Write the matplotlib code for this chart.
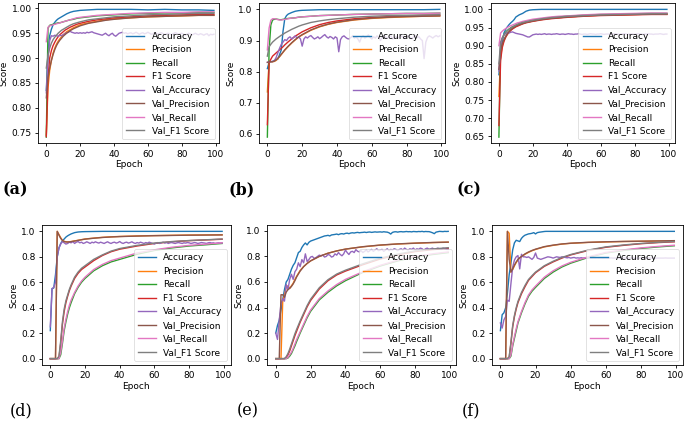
import matplotlib
matplotlib.use("Agg")
import matplotlib.pyplot as plt
from matplotlib.ticker import FixedLocator, FormatStrFormatter

# ---------------- data ----------------
EP = [0, 1, 2, 3, 4, 5, 6, 7, 8, 9, 10, 11, 12, 14, 16, 18, 20, 25, 30, 35, 40, 50, 60, 70, 80, 90, 99]
EPF = list(range(100))

labels = ["Accuracy", "Precision", "Recall", "F1 Score",
          "Val_Accuracy", "Val_Precision", "Val_Recall", "Val_F1 Score"]

# (a)
acc_a = [0.835,0.910,0.945,0.958,0.967,0.972,0.976,0.979,0.981,0.983,0.985,0.987,0.989,0.992,0.994,0.995,0.996,0.997,0.998,0.998,0.998,0.998,0.997,0.998,0.997,0.997,0.996]
prec_a = [0.745,0.840,0.875,0.895,0.910,0.920,0.928,0.934,0.939,0.943,0.947,0.950,0.953,0.957,0.961,0.964,0.967,0.971,0.974,0.977,0.979,0.981,0.983,0.984,0.985,0.986,0.986]
rec_a = [0.741,0.960,0.966,0.967,0.968,0.969,0.970,0.971,0.971,0.972,0.973,0.974,0.975,0.977,0.978,0.980,0.981,0.983,0.985,0.986,0.987,0.989,0.990,0.991,0.991,0.992,0.992]
f1_a = [0.742,0.860,0.900,0.915,0.925,0.932,0.938,0.943,0.947,0.950,0.953,0.956,0.958,0.962,0.965,0.968,0.970,0.974,0.977,0.979,0.981,0.983,0.985,0.986,0.987,0.988,0.988]
vacc_a = [0.830,0.900,0.935,0.945,0.944,0.946,0.945,0.944,0.946,0.945,
          0.947,0.949,0.951,0.952,0.954,0.952,0.951,0.950,0.951,0.950,
          0.951,0.950,0.951,0.950,0.952,0.951,0.952,0.953,0.951,0.950,
          0.949,0.948,0.947,0.946,0.948,0.950,0.947,0.945,0.948,0.950,
          0.946,0.944,0.947,0.950,0.951,0.952,0.950,0.951,0.949,0.950,
          0.951,0.949,0.950,0.952,0.950,0.948,0.950,0.951,0.949,0.950,
          0.952,0.950,0.948,0.949,0.951,0.950,0.948,0.950,0.951,0.949,
          0.947,0.949,0.950,0.948,0.947,0.949,0.951,0.950,0.948,0.949,
          0.950,0.948,0.946,0.948,0.950,0.949,0.947,0.948,0.950,0.948,
          0.947,0.949,0.948,0.946,0.948,0.949,0.945,0.948,0.947,0.948]
vprec_a = [0.820,0.860,0.880,0.895,0.907,0.917,0.925,0.931,0.936,0.940,0.944,0.947,0.950,0.955,0.959,0.962,0.965,0.970,0.973,0.976,0.978,0.981,0.983,0.984,0.985,0.986,0.986]
vrec_a = [0.933,0.962,0.965,0.966,0.967,0.968,0.969,0.970,0.971,0.972,0.973,0.974,0.975,0.977,0.979,0.981,0.982,0.984,0.986,0.987,0.988,0.990,0.991,0.992,0.992,0.993,0.993]
vf1_a = [0.880,0.905,0.920,0.930,0.937,0.942,0.946,0.950,0.953,0.956,0.958,0.960,0.962,0.966,0.969,0.971,0.973,0.977,0.979,0.981,0.983,0.985,0.987,0.988,0.989,0.990,0.990]

# (b)
acc_b = [0.810,0.830,0.832,0.833,0.835,0.838,0.840,0.855,0.870,0.930,0.970,0.980,0.985,0.990,0.994,0.996,0.997,0.998,0.999,0.999,0.999,0.999,0.999,0.999,0.999,0.999,1.000]
prec_b = [0.735,0.830,0.832,0.832,0.833,0.836,0.842,0.848,0.855,0.862,0.869,0.875,0.881,0.892,0.902,0.911,0.918,0.933,0.944,0.952,0.958,0.966,0.971,0.974,0.976,0.978,0.979]
rec_b = [0.590,0.870,0.950,0.966,0.968,0.969,0.968,0.967,0.967,0.968,0.969,0.970,0.971,0.972,0.973,0.975,0.976,0.978,0.980,0.981,0.982,0.984,0.985,0.986,0.987,0.987,0.988]
f1_b = [0.630,0.830,0.840,0.850,0.855,0.860,0.865,0.870,0.875,0.880,0.886,0.891,0.896,0.905,0.914,0.921,0.928,0.941,0.951,0.958,0.963,0.970,0.974,0.977,0.979,0.981,0.982]
vacc_b = [0.830,0.832,0.832,0.833,0.835,0.845,0.860,0.875,0.888,0.895,
          0.903,0.900,0.908,0.912,0.905,0.910,0.915,0.908,0.912,0.905,
          0.882,0.905,0.912,0.908,0.913,0.916,0.910,0.905,0.908,0.912,
          0.906,0.910,0.915,0.919,0.912,0.908,0.913,0.910,0.905,0.912,
          0.908,0.864,0.903,0.912,0.915,0.910,0.906,0.905,0.910,0.915,
          0.908,0.912,0.905,0.895,0.910,0.915,0.908,0.912,0.918,0.910,
          0.905,0.912,0.908,0.915,0.910,0.900,0.912,0.916,0.910,0.908,
          0.912,0.915,0.905,0.910,0.913,0.908,0.912,0.915,0.910,0.906,
          0.912,0.915,0.910,0.905,0.912,0.916,0.910,0.912,0.905,0.900,
          0.842,0.895,0.910,0.915,0.912,0.908,0.913,0.916,0.912,0.915]
vprec_b = [0.830,0.832,0.832,0.832,0.834,0.838,0.843,0.849,0.856,0.863,0.870,0.876,0.882,0.893,0.903,0.912,0.919,0.934,0.945,0.953,0.959,0.967,0.972,0.975,0.977,0.978,0.979]
vrec_b = [0.870,0.940,0.965,0.970,0.970,0.969,0.967,0.966,0.966,0.967,0.968,0.969,0.970,0.972,0.973,0.975,0.976,0.978,0.980,0.981,0.982,0.984,0.985,0.986,0.987,0.987,0.988]
vf1_b = [0.850,0.880,0.888,0.895,0.900,0.905,0.909,0.913,0.917,0.920,0.924,0.927,0.930,0.936,0.941,0.946,0.950,0.958,0.963,0.967,0.970,0.975,0.978,0.980,0.981,0.982,0.983]

# (c)
acc_c = [0.820,0.870,0.910,0.935,0.945,0.952,0.958,0.963,0.967,0.972,0.979,0.982,0.985,0.989,0.995,0.998,0.999,1.000,1.000,1.000,1.000,1.000,1.000,1.000,1.000,1.000,1.000]
prec_c = [0.760,0.870,0.900,0.915,0.925,0.932,0.938,0.943,0.947,0.950,0.953,0.955,0.957,0.961,0.964,0.966,0.968,0.972,0.975,0.977,0.979,0.982,0.984,0.985,0.986,0.987,0.987]
rec_c = [0.648,0.900,0.920,0.930,0.937,0.942,0.946,0.949,0.952,0.954,0.956,0.958,0.960,0.963,0.966,0.968,0.970,0.974,0.977,0.979,0.981,0.984,0.986,0.987,0.988,0.989,0.989]
f1_c = [0.680,0.860,0.895,0.912,0.923,0.931,0.937,0.942,0.946,0.949,0.952,0.954,0.956,0.960,0.963,0.965,0.967,0.971,0.974,0.976,0.978,0.981,0.983,0.984,0.985,0.986,0.986]
vacc_c = [0.830,0.900,0.920,0.930,0.933,0.936,0.935,0.937,0.938,0.936,
          0.934,0.933,0.932,0.931,0.930,0.928,0.926,0.924,0.924,0.927,
          0.930,0.931,0.932,0.931,0.932,0.931,0.932,0.933,0.931,0.932,
          0.932,0.931,0.932,0.932,0.933,0.932,0.931,0.932,0.932,0.931,
          0.932,0.933,0.932,0.932,0.931,0.932,0.932,0.933,0.932,0.931,
          0.932,0.932,0.931,0.932,0.933,0.932,0.932,0.931,0.932,0.932,
          0.933,0.932,0.931,0.932,0.932,0.932,0.931,0.932,0.933,0.932,
          0.932,0.931,0.932,0.932,0.933,0.932,0.931,0.932,0.932,0.932,
          0.931,0.932,0.933,0.932,0.932,0.931,0.932,0.932,0.933,0.932,
          0.932,0.931,0.932,0.932,0.932,0.933,0.932,0.931,0.932,0.932]
vprec_c = [0.835,0.885,0.905,0.917,0.926,0.933,0.939,0.944,0.948,0.951,0.954,0.956,0.958,0.961,0.964,0.966,0.968,0.972,0.975,0.977,0.979,0.982,0.984,0.985,0.986,0.987,0.987]
vrec_c = [0.900,0.935,0.940,0.944,0.947,0.950,0.953,0.955,0.957,0.959,0.961,0.963,0.964,0.967,0.969,0.971,0.973,0.976,0.979,0.981,0.982,0.985,0.987,0.988,0.989,0.990,0.990]
vf1_c = [0.850,0.910,0.922,0.930,0.936,0.941,0.945,0.949,0.952,0.954,0.957,0.959,0.961,0.964,0.966,0.968,0.970,0.974,0.977,0.979,0.981,0.983,0.985,0.986,0.987,0.988,0.988]

# (d)
acc_d = [0.220,0.550,0.555,0.660,0.800,0.870,0.905,0.925,0.940,0.955,0.965,0.973,0.980,0.990,0.995,0.997,0.998,0.999,1.000,1.000,1.000,1.000,1.000,1.000,1.000,1.000,1.000]
prec_d = [0,0,0,0,1.000,0.975,0.950,0.930,0.922,0.918,0.917,0.918,0.920,0.925,0.930,0.935,0.940,0.947,0.953,0.957,0.960,0.964,0.967,0.969,0.971,0.972,0.973]
rec_d = [0,0,0,0,0,0,0.030,0.120,0.220,0.290,0.350,0.400,0.440,0.510,0.560,0.600,0.630,0.690,0.730,0.760,0.780,0.820,0.850,0.870,0.885,0.895,0.905]
f1_d = [0,0,0,0,0,0.010,0.120,0.270,0.370,0.440,0.490,0.535,0.570,0.630,0.670,0.700,0.720,0.770,0.810,0.840,0.860,0.885,0.905,0.918,0.927,0.933,0.938]
vacc_d = [0.250,0.550,0.560,0.600,0.800,0.870,0.900,0.920,0.910,0.900,
          0.905,0.915,0.910,0.920,0.905,0.915,0.920,0.910,0.915,0.905,
          0.910,0.918,0.912,0.905,0.915,0.910,0.918,0.912,0.908,0.915,
          0.910,0.905,0.912,0.918,0.910,0.905,0.912,0.915,0.908,0.912,
          0.920,0.910,0.905,0.912,0.915,0.908,0.912,0.918,0.910,0.905,
          0.912,0.908,0.915,0.910,0.905,0.912,0.908,0.915,0.910,0.905,
          0.900,0.908,0.912,0.905,0.910,0.915,0.908,0.912,0.905,0.910,
          0.912,0.908,0.905,0.910,0.912,0.908,0.905,0.910,0.908,0.912,
          0.910,0.905,0.908,0.912,0.910,0.905,0.908,0.912,0.910,0.908,
          0.905,0.910,0.912,0.908,0.910,0.905,0.908,0.910,0.908,0.910]
vprec_d = [0,0,0,0,1.000,0.970,0.945,0.928,0.920,0.917,0.916,0.917,0.919,0.924,0.929,0.934,0.939,0.946,0.952,0.956,0.959,0.963,0.966,0.968,0.970,0.971,0.972]
vrec_d = [0,0,0,0,0,0,0.050,0.140,0.240,0.310,0.370,0.420,0.460,0.520,0.570,0.610,0.640,0.700,0.740,0.770,0.790,0.830,0.855,0.875,0.890,0.900,0.910]
vf1_d = [0,0,0,0,0,0.020,0.140,0.290,0.390,0.455,0.500,0.545,0.580,0.640,0.680,0.710,0.730,0.780,0.815,0.845,0.865,0.890,0.908,0.920,0.928,0.934,0.940]

# (e)
acc_e = [0.20,0.26,0.30,0.38,0.46,0.54,0.60,0.62,0.66,0.70,
         0.73,0.75,0.79,0.83,0.84,0.87,0.89,0.905,0.89,0.91,
         0.92,0.925,0.93,0.935,0.94,0.945,0.95,0.955,0.96,0.962,
         0.965,0.96,0.968,0.97,0.972,0.975,0.97,0.976,0.978,0.975,
         0.98,0.982,0.978,0.983,0.985,0.983,0.986,0.988,0.985,0.987,
         0.988,0.99,0.987,0.99,0.991,0.988,0.99,0.992,0.99,0.991,
         0.992,0.99,0.993,0.991,0.99,0.985,0.975,0.988,0.992,0.993,
         0.99,0.993,0.994,0.992,0.993,0.995,0.993,0.994,0.992,0.995,
         0.994,0.993,0.995,0.994,0.996,0.993,0.995,0.994,0.994,0.99,
         0.985,0.978,0.99,0.993,0.996,0.995,0.994,0.996,0.995,0.996]
prec_e = [0,0,0,0,0.450,0.500,0.560,0.570,0.550,0.570,0.590,0.620,0.645,0.690,0.720,0.745,0.765,0.800,0.825,0.843,0.857,0.875,0.888,0.897,0.903,0.908,0.911]
rec_e = [0,0,0,0,0,0,0,0.005,0.020,0.040,0.070,0.100,0.135,0.200,0.260,0.320,0.370,0.460,0.520,0.570,0.610,0.675,0.725,0.765,0.795,0.815,0.830]
f1_e = [0,0,0,0,0,0,0.010,0.030,0.060,0.100,0.140,0.180,0.215,0.285,0.345,0.405,0.455,0.545,0.610,0.655,0.685,0.735,0.780,0.812,0.838,0.853,0.863]
vacc_e = [0.20,0.15,0.30,0.43,0.47,0.45,0.58,0.54,0.62,0.66,
          0.62,0.68,0.70,0.75,0.72,0.775,0.75,0.82,0.76,0.775,
          0.795,0.80,0.785,0.79,0.80,0.81,0.805,0.81,0.795,0.80,
          0.815,0.81,0.795,0.80,0.82,0.81,0.83,0.815,0.805,0.82,
          0.85,0.83,0.815,0.835,0.84,0.83,0.853,0.84,0.835,0.845,
          0.83,0.84,0.85,0.835,0.845,0.855,0.84,0.85,0.86,0.845,
          0.85,0.855,0.84,0.85,0.86,0.845,0.855,0.85,0.86,0.855,
          0.845,0.855,0.86,0.85,0.865,0.855,0.85,0.86,0.855,0.865,
          0.85,0.86,0.855,0.865,0.86,0.85,0.86,0.865,0.855,0.86,
          0.865,0.855,0.86,0.865,0.86,0.855,0.865,0.86,0.855,0.855]
vprec_e = [0,0,0,0.500,0.500,0.480,0.520,0.540,0.550,0.565,0.585,0.610,0.640,0.685,0.720,0.745,0.765,0.800,0.825,0.843,0.857,0.876,0.889,0.898,0.904,0.909,0.912]
vrec_e = [0,0,0,0,0,0,0,0.010,0.030,0.050,0.080,0.115,0.150,0.210,0.270,0.330,0.380,0.470,0.530,0.580,0.620,0.680,0.730,0.770,0.800,0.820,0.835]
vf1_e = [0,0,0,0,0,0,0.015,0.040,0.075,0.115,0.155,0.195,0.230,0.295,0.355,0.415,0.465,0.555,0.618,0.662,0.692,0.742,0.786,0.818,0.843,0.858,0.868]

# (f)
acc_f = [0.22,0.345,0.36,0.40,0.515,0.66,0.75,0.855,0.91,0.93,
         0.925,0.92,0.945,0.96,0.97,0.975,0.98,0.982,0.985,0.99,
         0.98,0.99,0.993,0.995,0.997,0.999,1.0,1.0,1.0,1.0,
         1.0,1.0,1.0,1.0,1.0,1.0,1.0,1.0,1.0,1.0,
         1.0,1.0,1.0,1.0,1.0,1.0,1.0,1.0,1.0,1.0,
         1.0,1.0,1.0,1.0,1.0,1.0,1.0,1.0,1.0,1.0,
         1.0,1.0,1.0,1.0,1.0,1.0,1.0,1.0,1.0,1.0,
         1.0,1.0,1.0,1.0,1.0,1.0,1.0,1.0,1.0,1.0,
         1.0,1.0,1.0,1.0,1.0,1.0,1.0,1.0,1.0,1.0,
         1.0,1.0,1.0,1.0,1.0,1.0,1.0,1.0,1.0,1.0]
prec_f = [0,0,0,0,1.000,0.985,0.680,0.700,0.730,0.755,0.775,0.790,0.800,0.820,0.835,0.848,0.858,0.878,0.890,0.900,0.906,0.913,0.917,0.920,0.922,0.924,0.925]
rec_f = [0,0,0,0,0,0,0.020,0.100,0.160,0.220,0.280,0.320,0.360,0.430,0.490,0.530,0.560,0.630,0.680,0.720,0.750,0.795,0.830,0.850,0.866,0.878,0.887]
f1_f = [0,0,0,0,0,0.010,0.120,0.250,0.330,0.390,0.440,0.475,0.510,0.565,0.615,0.645,0.675,0.725,0.760,0.790,0.815,0.850,0.875,0.890,0.903,0.912,0.918]
vacc_f = [0.28,0.24,0.305,0.33,0.46,0.45,0.59,0.72,0.775,0.80,
          0.81,0.705,0.82,0.80,0.80,0.795,0.80,0.79,0.78,0.795,
          0.83,0.79,0.785,0.78,0.785,0.79,0.795,0.80,0.798,0.795,
          0.79,0.795,0.80,0.797,0.795,0.80,0.798,0.795,0.792,0.795,
          0.79,0.793,0.795,0.79,0.792,0.79,0.793,0.79,0.792,0.79,
          0.79,0.792,0.79,0.791,0.79,0.792,0.79,0.791,0.79,0.79,
          0.791,0.79,0.79,0.792,0.79,0.79,0.791,0.79,0.79,0.79,
          0.79,0.791,0.79,0.79,0.79,0.791,0.79,0.79,0.79,0.79,
          0.79,0.79,0.791,0.79,0.79,0.79,0.79,0.791,0.79,0.79,
          0.79,0.79,0.79,0.79,0.791,0.79,0.79,0.79,0.79,0.79]
vprec_f = [0,0,0,0,1.000,0.780,0.680,0.705,0.735,0.760,0.780,0.793,0.803,0.823,0.838,0.850,0.860,0.880,0.892,0.901,0.907,0.914,0.918,0.921,0.923,0.925,0.927]
vrec_f = [0,0,0,0,0,0,0.030,0.110,0.175,0.235,0.290,0.330,0.370,0.440,0.500,0.540,0.570,0.640,0.690,0.728,0.757,0.800,0.834,0.854,0.870,0.882,0.891]
vf1_f = [0,0,0,0,0,0.015,0.130,0.260,0.340,0.400,0.450,0.485,0.520,0.575,0.622,0.652,0.680,0.730,0.765,0.795,0.818,0.853,0.878,0.893,0.905,0.914,0.920]

panel_tags = ["(a)", "(b)", "(c)", "(d)", "(e)", "(f)"]
y_ticks_a = [0.75, 0.80, 0.85, 0.90, 0.95, 1.00]
y_ticks_b = [0.6, 0.7, 0.8, 0.9, 1.0]
y_ticks_c = [0.65, 0.70, 0.75, 0.80, 0.85, 0.90, 0.95, 1.00]
y_ticks_low = [0.0, 0.2, 0.4, 0.6, 0.8, 1.0]
x_ticks = [0, 20, 40, 60, 80, 100]

# ---------------- figure ----------------
W, H = 686, 423
fig = plt.figure(figsize=(W / 100, H / 100), dpi=100)

FS = 6.5
colors = ["#1f77b4", "#ff7f0e", "#2ca02c", "#d62728",
          "#9467bd", "#8c564b", "#e377c2", "#7f7f7f"]

panels = [
    dict(box=(38, 219, 3, 143.5), acc=(EP, acc_a), vacc=(EPF, vacc_a),
         others=[prec_a, rec_a, f1_a, vprec_a, vrec_a, vf1_a],
         yt=y_ticks_a, fmt="%.2f", xlim=(-4.9, 102.0), tag=(3, 190), bold=True),
    dict(box=(259, 445.5, 3, 143.5), acc=(EP, acc_b), vacc=(EPF, vacc_b),
         others=[prec_b, rec_b, f1_b, vprec_b, vrec_b, vf1_b],
         yt=y_ticks_b, fmt="%.1f", xlim=(-4.8, 102.3), tag=(229, 190), bold=True),
    dict(box=(490.5, 675.3, 3, 143.5), acc=(EP, acc_c), vacc=(EPF, vacc_c),
         others=[prec_c, rec_c, f1_c, vprec_c, vrec_c, vf1_c],
         yt=y_ticks_c, fmt="%.2f", xlim=None, tag=(456, 190), bold=True),
    dict(box=(41.7, 230.7, 225, 365), acc=(EP, acc_d), vacc=(EPF, vacc_d),
         others=[prec_d, rec_d, f1_d, vprec_d, vrec_d, vf1_d],
         yt=y_ticks_low, fmt="%.1f", xlim=None, tag=(10, 411), bold=False),
    dict(box=(266.7, 455.7, 225, 365), acc=(EPF, acc_e), vacc=(EPF, vacc_e),
         others=[prec_e, rec_e, f1_e, vprec_e, vrec_e, vf1_e],
         yt=y_ticks_low, fmt="%.1f", xlim=(-5.2, 103.3), tag=(237, 411), bold=False),
    dict(box=(491.7, 683, 225, 365), acc=(EPF, acc_f), vacc=(EPF, vacc_f),
         others=[prec_f, rec_f, f1_f, vprec_f, vrec_f, vf1_f],
         yt=y_ticks_low, fmt="%.1f", xlim=None, tag=(462, 411), bold=False),
]

for i, p in enumerate(panels):
    l, r, t, b = p["box"]
    ax = fig.add_axes([l / W, 1 - b / H, (r - l) / W, (b - t) / H])
    prec, rec, f1, vprec, vrec, vf1 = p["others"]
    series = [p["acc"], (EP, prec), (EP, rec), (EP, f1),
              p["vacc"], (EP, vprec), (EP, vrec), (EP, vf1)]
    for (xs, ys), c, lab in zip(series, colors, labels):
        ax.plot(xs, ys, color=c, lw=1.0, label=lab)
    if p["xlim"] is not None:
        ax.set_xlim(*p["xlim"])
    ax.xaxis.set_major_locator(FixedLocator(x_ticks))
    ax.yaxis.set_major_locator(FixedLocator(p["yt"]))
    ax.yaxis.set_major_formatter(FormatStrFormatter(p["fmt"]))
    ax.tick_params(labelsize=FS, length=2.5, width=0.6, pad=2)
    for s in ax.spines.values():
        s.set_linewidth(0.6)
    ax.set_xlabel("Epoch", fontsize=FS, labelpad=1)
    ax.set_ylabel("Score", fontsize=FS, labelpad=2)
    leg = ax.legend(loc="lower right", fontsize=FS, handlelength=2.0,
                    borderaxespad=0.45, labelspacing=0.5, borderpad=0.45,
                    handletextpad=0.8)
    leg.get_frame().set_linewidth(0.5)
    tx, ty = p["tag"]
    fig.text(tx / W, 1 - ty / H, panel_tags[i], fontsize=11.5,
             family="DejaVu Serif", fontweight="bold" if p["bold"] else "normal",
             va="center", ha="left")

fig.savefig("out.png", dpi=100)
